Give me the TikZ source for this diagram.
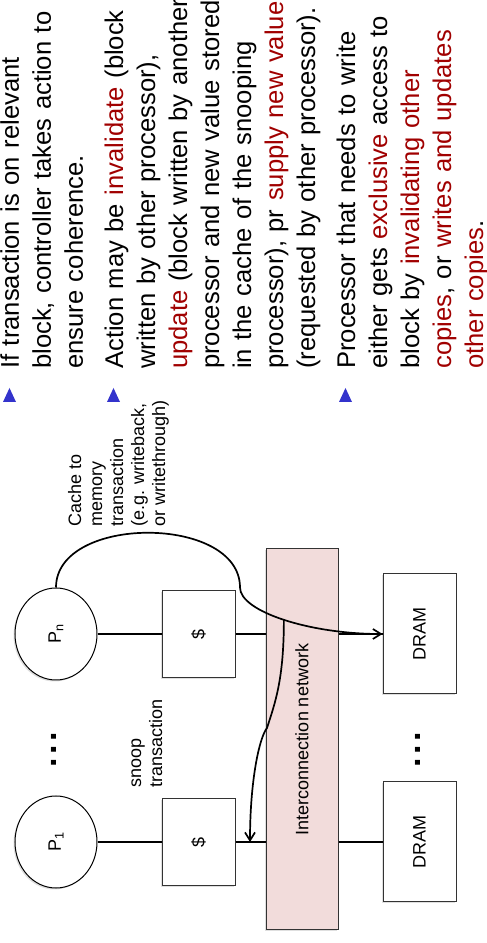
\documentclass[tikz,border=0pt]{standalone}
\usepackage{fontspec}
\setmainfont{Liberation Sans}
\usetikzlibrary{positioning,shapes.geometric,arrows.meta,shadows}
\definecolor{hired}{RGB}{160,0,0}
\definecolor{bulletblue}{RGB}{51,51,204}
\definecolor{netpink}{RGB}{242,220,219}
\newcommand{\hl}[1]{\textcolor{hired}{#1}}

\begin{document}
\begin{tikzpicture}[%
  x=1pt, y=1pt, rotate=90, transform shape,
  shade/.style={drop shadow={opacity=0.25, shadow xshift=-1.5pt, shadow yshift=-1.5pt}},
  proc/.style={ellipse, draw=black, line width=1, fill=white, shade, minimum width=92, minimum height=82,
    inner sep=0, font=\fontsize{18}{21}\selectfont},
  cache/.style={rectangle, draw=black!80, line width=1, fill=white, shade, minimum width=87, minimum height=73,
    font=\fontsize{18}{21}\selectfont},
  dram/.style={cache, minimum width=120},
  net/.style={rectangle, draw=black!80, line width=1, fill=netpink, shade, minimum width=381, minimum height=72,
    font=\fontsize{18}{21}\selectfont},
  lbl/.style={anchor=base west, align=left, inner sep=0, font=\fontsize{18}{21}\selectfont},
  para/.style={anchor=base west, align=left, text width=480, inner sep=0, font=\fontsize{25.6}{32}\selectfont},
  moredots/.style={anchor=base, inner sep=0, font=\fontsize{34}{34}\selectfont\bfseries},
  bullet/.style={fill=bulletblue},
  link/.style={line width=1.6},
  conn/.style={line width=1.7, -{Straight Barb[length=8,width=10]}}]
\useasboundingbox (0,-487) rectangle (943,0);

\node[proc] (p1) at (101,-56) {P\textsubscript{1}};
\node[proc] (pn) at (309,-56) {P\textsubscript{n}};
\node[moredots] (pdots) at (193,-56) {.\kern3.5pt.\kern3.5pt.};
\node[cache] (c1) at (101,-198.5) {\$};
\node[cache] (cn) at (309,-198.5) {\$};
\node[net] (net) at (203.5,-302) {Interconnection network};
\node[dram] (d1) at (101,-419.5) {DRAM};
\node[dram] (dn) at (309,-419.5) {DRAM};
\node[moredots] (ddots) at (193,-420) {.\kern3.5pt.\kern3.5pt.};

\draw[link] (p1.south) -- (c1.north);
\draw[link] (pn.south) -- (cn.north);
\draw[link] (c1.south) -- (c1.south |- net.north);
\draw[link] (cn.south) -- (cn.south |- net.north);
\draw[link] (net.south -| d1.north) -- (d1.north);
\draw[link] (net.south -| dn.north) -- (dn.north);

\node[lbl] (snooplbl) at (155,-162) {snoop\\transaction};
\node[lbl] (memlbl) at (416,-165) {Cache to\\memory\\transaction\\(e.g. writeback,\\or writethrough)};

\coordinate (bend) at (pn.east |- 0,-240);
\coordinate (kink) at (215,-267);
\coordinate (hit) at (101,-250);
\draw[conn] (pn.east) .. controls +(73,0) and +(73,0) .. (bend)
  .. controls +(-24,0) and +(0,73) .. (dn.north) coordinate[pos=0.5] (snoop);
\draw[conn] (snoop) .. controls +(-60,0) and +(25,-8) .. (kink)
  .. controls +(-10,8) and +(60,0) .. (hit);

\foreach \b in {19,123,355}
  \fill[bullet] (541,3-\b) -- (541,16-\b) -- (555,9.5-\b) -- cycle;
\node[para] (t1) at (574,-19) {If transaction is on relevant\\block, controller takes action to\\ensure coherence.};
\node[para] (t2) at (574,-123) {Action may be \hl{invalidate} (block\\written by other processor),\\\hl{update} (block written by another\\processor and new value stored\\in the cache of the snooping\\processor), pr \hl{supply new value}\\(requested by other processor).};
\node[para] (t3) at (574,-355) {Processor that needs to write\\either gets \hl{exclusive} access to\\block by \hl{invalidating other}\\\hl{copies}, or \hl{writes and updates}\\\hl{other copies}.};
\end{tikzpicture}
\end{document}
